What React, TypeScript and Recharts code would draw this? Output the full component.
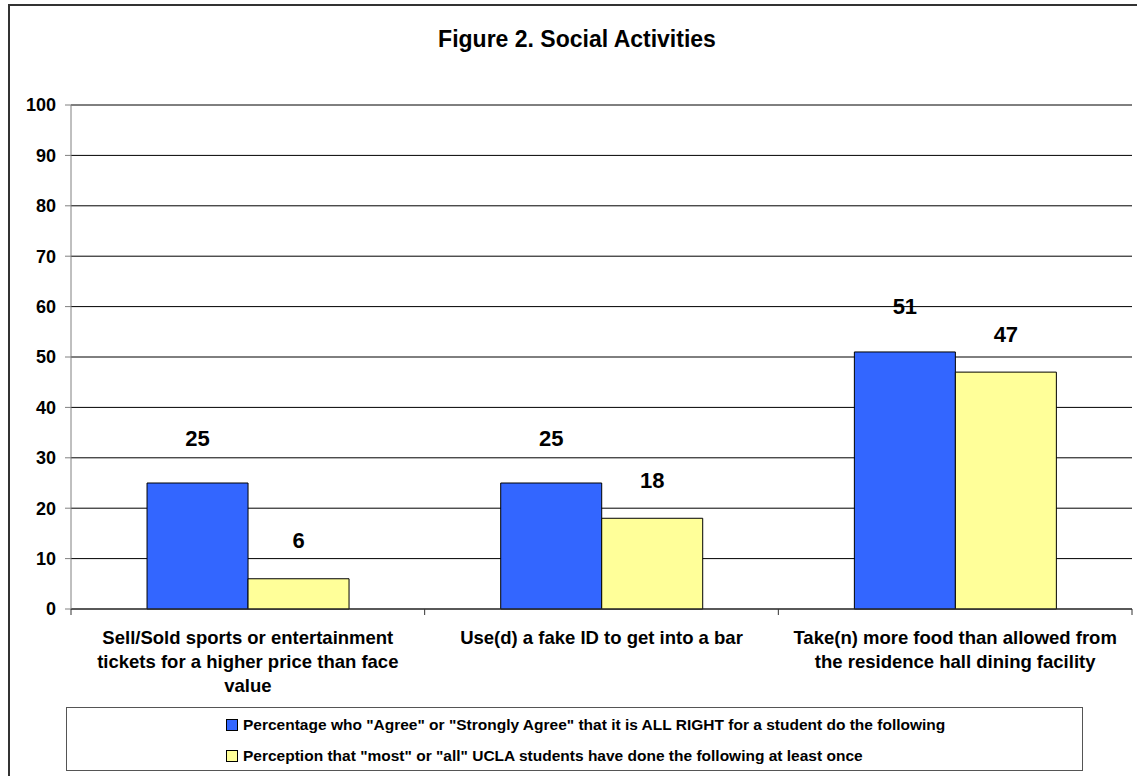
import { Bar, BarChart, CartesianGrid, LabelList, ReferenceLine, XAxis, YAxis } from "recharts"

const FONT = "Arial, 'Liberation Sans', sans-serif"

const CATEGORIES = [
  ["Sell/Sold sports or entertainment", "tickets for a higher price than face", "value"],
  ["Use(d) a fake ID to get into a bar"],
  ["Take(n) more food than allowed from", "the residence hall dining facility"],
]
const AGREE_VALUES = [25, 25, 51]
const PERCEPTION_VALUES = [6, 18, 47]
const SERIES_NAMES = [
  'Percentage who "Agree" or "Strongly Agree" that it is ALL RIGHT for a student do the following',
  'Perception that "most" or "all" UCLA students have done the following at least once',
]
const SERIES_COLORS = ["#3366FF", "#FFFF99"]
const Y_TICKS = [0, 10, 20, 30, 40, 50, 60, 70, 80, 90, 100]

const data = CATEGORIES.map((lines, i) => ({
  name: lines.join(" "),
  agree: AGREE_VALUES[i],
  perception: PERCEPTION_VALUES[i],
}))

// category label split over several lines, plus the tick marks between categories
function CategoryTick(props: any) {
  const { x, y, payload, index } = props
  const lines = CATEGORIES[index] ?? [String(payload.value)]
  const half = payload.offset ?? 0
  const last = index === CATEGORIES.length - 1
  return (
    <g>
      <line x1={x - half} x2={x - half} y1={y} y2={y + 6} stroke="#333" />
      {last && <line x1={x + half} x2={x + half} y1={y} y2={y + 6} stroke="#333" />}
      <text x={x} y={y + 35} textAnchor="middle" fontFamily={FONT} fontWeight="bold" fontSize={18.5} fill="#000">
        {lines.map((line, i) => (
          <tspan key={i} x={x} dy={i === 0 ? 0 : 24}>
            {line}
          </tspan>
        ))}
      </text>
    </g>
  )
}

const makeLabel = (lift: number) => (props: any) => {
  const { x, y, width, value } = props
  return (
    <text
      x={x + width / 2}
      y={y - lift}
      textAnchor="middle"
      dominantBaseline="central"
      fontFamily={FONT}
      fontWeight="bold"
      fontSize={22}
      fill="#000"
    >
      {value}
    </text>
  )
}

export default function App() {
  return (
    <div
      style={{
        position: "absolute",
        left: 0,
        top: 0,
        width: 1137,
        height: 776,
        overflow: "hidden",
        background: "#fff",
        fontFamily: FONT,
      }}
    >
      <div
        style={{
          position: "absolute",
          left: 8,
          top: 4,
          width: 1140,
          height: 790,
          border: "2px solid #333",
          boxSizing: "border-box",
        }}
      />
      <div
        style={{
          position: "absolute",
          left: 16,
          top: 26,
          width: 1122,
          textAlign: "center",
          fontWeight: "bold",
          fontSize: 23,
        }}
      >
        Figure 2. Social Activities
      </div>
      <div style={{ position: "absolute", left: 0, top: 0 }}>
        <BarChart
          width={1137}
          height={776}
          data={data}
          margin={{ top: 105, right: 5, bottom: 87, left: 11 }}
          barCategoryGap="21.5%"
          barGap={0}
        >
          <CartesianGrid vertical={false} stroke="#000" />
          <XAxis
            dataKey="name"
            height={80}
            interval={0}
            tickSize={0}
            tickMargin={0}
            tickLine={false}
            axisLine={{ stroke: "#333" }}
            tick={<CategoryTick />}
          />
          <YAxis
            width={60}
            domain={[0, 100]}
            ticks={Y_TICKS}
            interval={0}
            tickSize={6}
            tickMargin={9}
            axisLine={{ stroke: "#808080" }}
            tickLine={{ stroke: "#808080" }}
            tick={{ fill: "#000", fontFamily: FONT, fontWeight: "bold", fontSize: 18 }}
          />
          <YAxis yAxisId="r" orientation="right" width={0} tick={false} tickLine={false} axisLine={{ stroke: "#808080" }} />
          <ReferenceLine y={100} stroke="#808080" />
          <Bar dataKey="agree" name={SERIES_NAMES[0]} fill={SERIES_COLORS[0]} stroke="#000" isAnimationActive={false}>
            <LabelList dataKey="agree" content={makeLabel(45)} />
          </Bar>
          <Bar dataKey="perception" name={SERIES_NAMES[1]} fill={SERIES_COLORS[1]} stroke="#000" isAnimationActive={false}>
            <LabelList dataKey="perception" content={makeLabel(38)} />
          </Bar>
        </BarChart>
      </div>
      <div
        style={{
          position: "absolute",
          left: 66,
          top: 707,
          width: 1017,
          height: 64,
          border: "1.5px solid #555",
          boxSizing: "border-box",
          paddingLeft: 159,
          paddingTop: 1,
        }}
      >
        {SERIES_NAMES.map((name, i) => (
          <div key={name} style={{ display: "flex", alignItems: "center", height: 31, fontSize: 15.5, fontWeight: "bold" }}>
            <span
              style={{
                display: "inline-block",
                width: 10,
                height: 10,
                border: "1px solid #000",
                background: SERIES_COLORS[i],
                marginRight: 5,
              }}
            />
            {name}
          </div>
        ))}
      </div>
    </div>
  )
}
